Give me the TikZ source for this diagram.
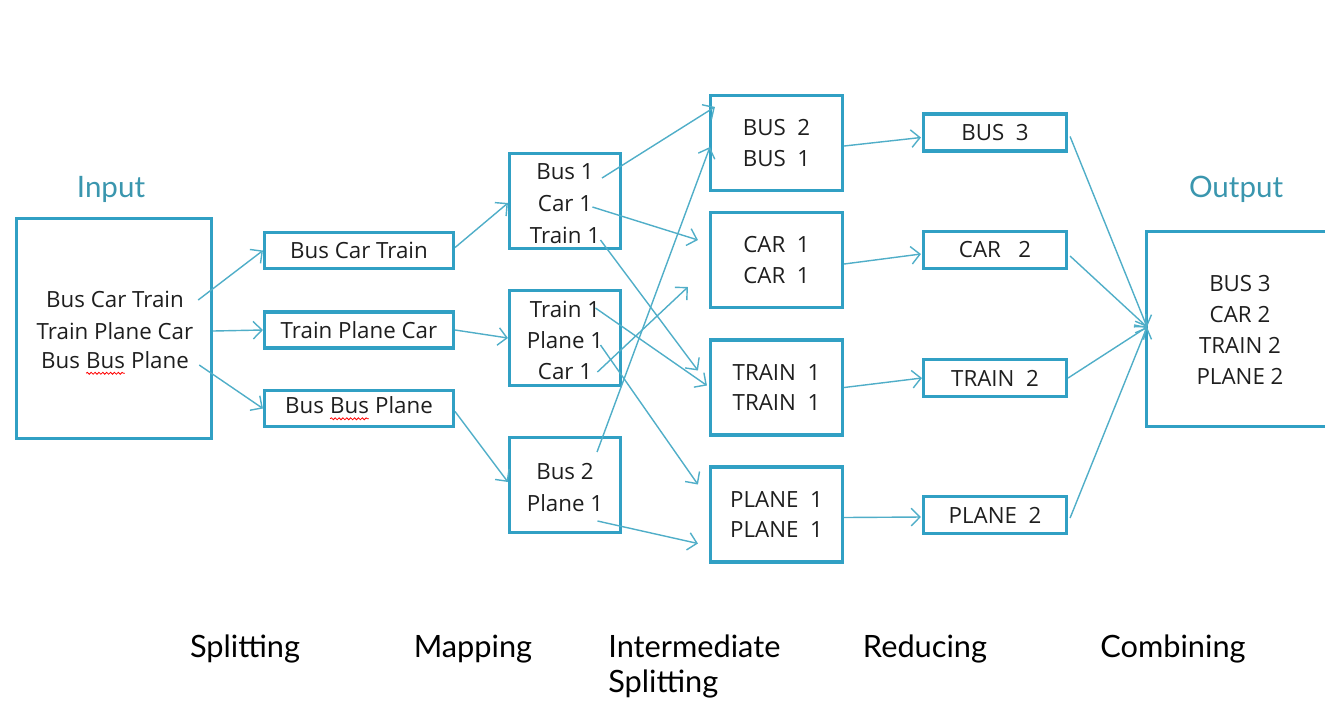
\documentclass[tikz,border=0pt]{standalone}
\usepackage{fontspec}
\setmainfont{Open Sans}
\newfontfamily\labelfont{Lato}
\usetikzlibrary{arrows.meta,calc,decorations.pathmorphing}

\definecolor{boxblue}{RGB}{49,160,196}
\definecolor{arrowblue}{RGB}{80,174,200}
\definecolor{titleblue}{RGB}{58,150,174}
\definecolor{inkgray}{RGB}{30,30,30}

% wavy red spell-check line under a word
\newcommand{\squig}[1]{\tikz[baseline=(sq.base)]{\node[inner sep=0pt, outer sep=0pt, draw=none, minimum width=0pt, minimum height=0pt, anchor=base] (sq) {#1};
	\draw[red, line width=0.45pt, decorate, decoration={snake, amplitude=0.55pt, segment length=2.2pt}] ([yshift=-2.8pt]sq.base west) -- ([yshift=-2.8pt]sq.base east);}}

\begin{document}
\begin{tikzpicture}[x=0.02cm, y=-0.02cm,
		box/.style={draw=boxblue, line width=1.8pt},
		txt/.style={inner sep=0pt, text=inkgray, font=\fontsize{12.7}{17.5}\selectfont},
		flow/.style={draw=arrowblue, line width=0.8pt, -{Straight Barb[length=5pt, width=10pt]}},
		title/.style={inner sep=0pt, text=titleblue, font=\labelfont\fontsize{16.8}{18}\selectfont},
		stage/.style={inner sep=0pt, font=\labelfont\fontsize{17.5}{20}\selectfont}]
		\path[use as bounding box] (0,0) rectangle (1325,701);

		% input
		\node[title] at (111,189) (tin) {Input};
		\node[box, minimum width=3.9cm, minimum height=4.4cm] at (114,328.5) (inbox) {};
		\node[txt] at (115,299) (in1) {Bus Car Train};
		\node[txt] at (115,331) (in2) {Train Plane Car};
		\node[txt] at (115,363) (in3) {Bus \squig{Bus} Plane};

		% splitting
		\node[box, txt, minimum width=3.78cm, minimum height=0.72cm] at (359,250.5) (s1) {Bus Car Train};
		\node[box, txt, minimum width=3.78cm, minimum height=0.72cm] at (359,330) (s2) {Train Plane Car};
		\node[box, txt, minimum width=3.78cm, minimum height=0.72cm] at (359,408.5) (s3) {Bus \squig{Bus} Plane};

		% mapping
		\node[box, minimum width=2.22cm, minimum height=1.9cm] at (565,201) (b1) {};
		\node[box, minimum width=2.22cm, minimum height=1.9cm] at (565,338) (b2) {};
		\node[box, minimum width=2.22cm, minimum height=1.9cm] at (565,485) (b3) {};
		\node[txt] at (565,172) (b1bus) {Bus 1};
		\node[txt] at (565,204) (b1car) {Car 1};
		\node[txt] at (565,235) (b1train) {Train 1};
		\node[txt] at (565,309) (b2train) {Train 1};
		\node[txt] at (565,340) (b2plane) {Plane 1};
		\node[txt] at (565,372) (b2car) {Car 1};
		\node[txt] at (565,472) (b3bus) {Bus 2};
		\node[txt] at (565,503) (b3plane) {Plane 1};

		% intermediate splitting
		\node[box, txt, align=center, minimum width=2.64cm, minimum height=1.9cm] at (776.5,143) (ibus) {BUS\ \ 2\\BUS\ \ 1};
		\node[box, txt, align=center, minimum width=2.64cm, minimum height=1.9cm] at (776.5,260) (icar) {CAR\ \ 1\\CAR\ \ 1};
		\node[box, txt, align=center, minimum width=2.64cm, minimum height=1.9cm] at (776.5,387.5) (itrain) {TRAIN\ \ 1\\TRAIN\ \ 1};
		\node[box, txt, align=center, minimum width=2.64cm, minimum height=1.9cm] at (776.5,514.5) (iplane) {PLANE\ \ 1\\PLANE\ \ 1};

		% reducing
		\node[box, txt, minimum width=2.86cm, minimum height=0.74cm] at (995,132.5) (rbus) {BUS\ \ 3};
		\node[box, txt, minimum width=2.86cm, minimum height=0.74cm] at (995,250) (rcar) {CAR\ \ \ 2};
		\node[box, txt, minimum width=2.86cm, minimum height=0.74cm] at (995,378) (rtrain) {TRAIN\ \ 2};
		\node[box, txt, minimum width=2.86cm, minimum height=0.74cm] at (995,515) (rplane) {PLANE\ \ 2};

		% output
		\node[title] at (1236,189) (tout) {Output};
		\node[box, minimum width=4cm, minimum height=3.9cm] at (1246.5,329) (outbox) {};
		\node[txt, align=center] at (1240,330) (out) {BUS\ 3\\CAR\ 2\\TRAIN\ 2\\PLANE\ 2};
		\coordinate (cmb) at (1147,327);

		% stages
		\node[stage] at (245,649) (l1) {Splitting};
		\node[stage] at (473,649) (l2) {Mapping};
		\node[stage, align=left, anchor=west] at (608,666.5) (l3) {Intermediate\\Splitting};
		\node[stage] at (925,649) (l4) {Reducing};
		\node[stage] at (1173,649) (l5) {Combining};

		% connectors
		\draw[flow] ($(in1.east)+(14,1)$) -- (s1.west);
		\draw[flow] (in2.east -| inbox.east) -- (s2.west);
		\draw[flow] ($(in3.east)+(10,2)$) -- (s3.west);

		\draw[flow] ($(s1.east)+(0,-3)$) -- ($(b1.west)+(0,2)$);
		\draw[flow] (s2.east) -- (b2.west);
		\draw[flow] ($(s3.east)+(0,3)$) -- ($(b3.west)+(0,-3)$);

		\draw[flow] ($(b1bus.east)+(8,6)$) -- ($(ibus.north west)+(6,13)$);
		\draw[flow] ($(b1car.east)+(0,3)$) -- ($(icar.west)+(-11,-20)$);
		\draw[flow] ($(b1train.east)+(0,5)$) -- ($(itrain.west)+(-11,-17)$);
		\draw[flow] ($(b2train.east)+(-5,-1)$) -- ($(itrain.west)+(-2,-2)$);
		\draw[flow] ($(b2plane.east)+(-3,5)$) -- ($(iplane.west)+(-11,-30)$);
		\draw[flow] ($(b2car.east)+(5,0)$) -- ($(icar.west)+(-21,27)$);
		\draw[flow] ($(b3bus.east)+(3,-20)$) -- ($(ibus.west)+(1,4)$);
		\draw[flow] ($(b3plane.east)+(-6,18)$) -- ($(iplane.west)+(-11,29)$);

		\draw[flow] ($(ibus.east)+(0,3)$) -- ($(rbus.west)+(-1,5)$);
		\draw[flow] ($(icar.east)+(0,4)$) -- ($(rcar.west)+(-1,4)$);
		\draw[flow] (itrain.east) -- (rtrain.west);
		\draw[flow] ($(iplane.east)+(0,3)$) -- ($(rplane.west)+(-1,2)$);

		\draw[flow] ($(rbus.east)+(2,4)$) -- (cmb);
		\draw[flow] ($(rcar.east)+(2,6)$) -- (cmb);
		\draw[flow] (rtrain.east) -- (cmb);
		\draw[flow] ($(rplane.east)+(2,3)$) -- (cmb);
\end{tikzpicture}
\end{document}
